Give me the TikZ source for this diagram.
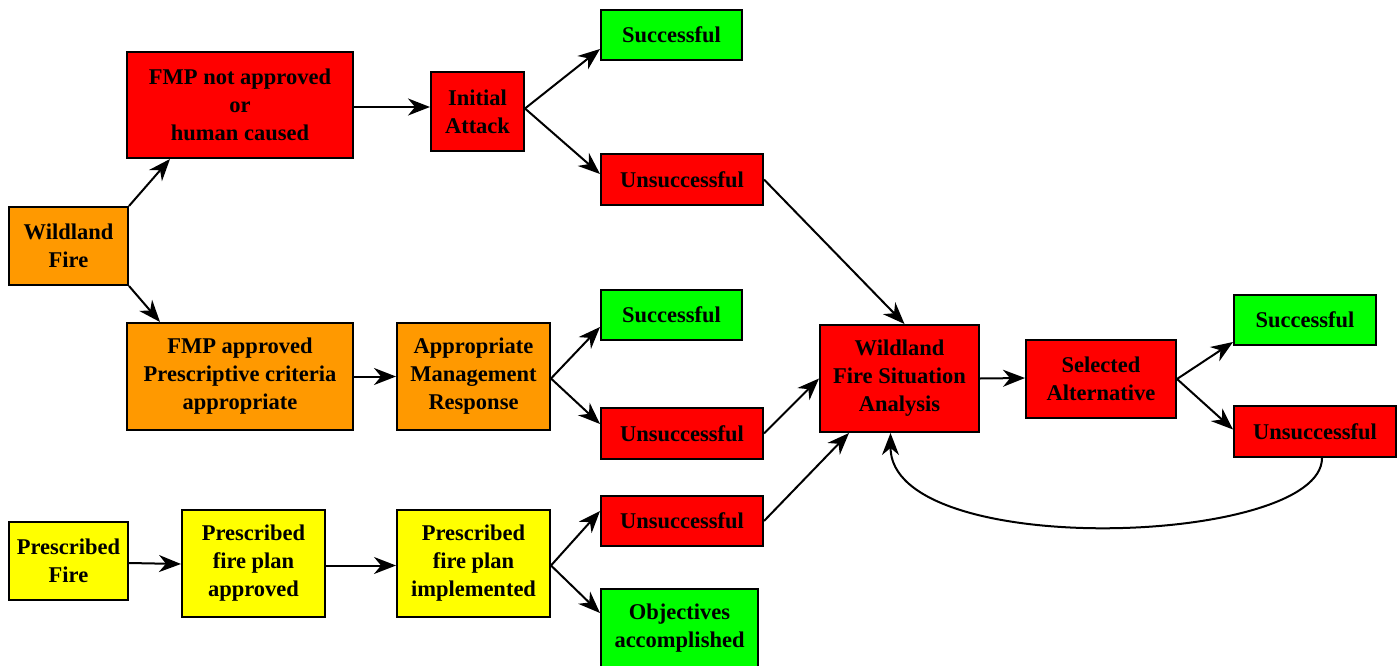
\documentclass[tikz,border=0pt]{standalone}
\usepackage{fontspec}
\setmainfont{Liberation Serif}
\usetikzlibrary{arrows.meta}
\definecolor{cred}{HTML}{FF0000}
\definecolor{corange}{HTML}{FF9900}
\definecolor{cyellow}{HTML}{FFFF00}
\definecolor{cgreen}{HTML}{00FF00}
\tikzset{
  box/.style={draw=black, line width=2pt, inner sep=0pt, align=center,
    font=\fontsize{22.5}{28}\selectfont\bfseries, text=black},
  redbox/.style={box, fill=cred},
  orangebox/.style={box, fill=corange},
  yellowbox/.style={box, fill=cyellow},
  greenbox/.style={box, fill=cgreen},
  conn/.style={line width=2pt, -{Stealth[length=22pt, width=17pt, inset=7pt]}},
}
\begin{document}
\begin{tikzpicture}[x=1pt, y=-1pt]
\useasboundingbox (0,0) rectangle (1397,666);
\node[orangebox, minimum width=119pt, minimum height=78pt] (wf) at (68.5,246) {Wildland\\Fire};
\node[redbox, minimum width=226pt, minimum height=106pt] (fmpn) at (240,105) {FMP not approved\\or\\human caused};
\node[redbox, minimum width=93pt, minimum height=79pt] (ia) at (477.5,111.5) {Initial\\Attack};
\node[greenbox, minimum width=141pt, minimum height=50pt] (s1) at (671.5,35) {Successful};
\node[redbox, minimum width=162pt, minimum height=51pt] (u1) at (682,179.5) {Unsuccessful};
\node[orangebox, minimum width=226pt, minimum height=107pt] (fmpa) at (240,376.5) {FMP approved\\Prescriptive criteria\\appropriate};
\node[orangebox, minimum width=153pt, minimum height=107pt] (amr) at (473.5,376.5) {Appropriate\\Management\\Response};
\node[greenbox, minimum width=141pt, minimum height=50pt] (s2) at (671.5,315) {Successful};
\node[redbox, minimum width=162pt, minimum height=51pt] (u2) at (682,433.5) {Unsuccessful};
\node[yellowbox, minimum width=119pt, minimum height=78pt] (pf) at (68.5,561) {Prescribed\\Fire};
\node[yellowbox, minimum width=143pt, minimum height=107pt] (pa) at (253.5,563.5) {Prescribed\\fire plan\\approved};
\node[yellowbox, minimum width=153pt, minimum height=107pt] (pi) at (473.5,563.5) {Prescribed\\fire plan\\implemented};
\node[redbox, minimum width=162pt, minimum height=50pt] (u3) at (682,521) {Unsuccessful};
\node[greenbox, minimum width=157pt, minimum height=78pt] (oa) at (679.5,628) {Objectives\\accomplished};
\node[redbox, minimum width=159pt, minimum height=107pt] (wfsa) at (899.5,378.5) {Wildland\\Fire Situation\\Analysis};
\node[redbox, minimum width=150pt, minimum height=78pt] (sa) at (1101,379) {Selected\\Alternative};
\node[greenbox, minimum width=142pt, minimum height=50pt] (s3) at (1305,320) {Successful};
\node[redbox, minimum width=162pt, minimum height=51pt] (u4) at (1315,431.5) {Unsuccessful};
% connectors (yshift is in canvas direction: positive = up)
\draw[conn] (wf.north east) -- ([xshift=-70pt]fmpn.south);
\draw[conn] (wf.south east) -- ([xshift=-80pt]fmpa.north);
\draw[conn] ([yshift=-2pt]fmpn.east) -- ([yshift=4.5pt]ia.west);
\draw[conn] ([yshift=3pt]ia.east) -- ([yshift=12pt]s1.south west);
\draw[conn] ([yshift=3pt]ia.east) -- ([yshift=-21pt]u1.north west);
\draw[conn] (u1.east) -- ([xshift=5pt]wfsa.north);
\draw[conn] (fmpa.east) -- (amr.west);
\draw[conn] ([yshift=-2pt]amr.east) -- ([yshift=14pt]s2.south west);
\draw[conn] ([yshift=-2pt]amr.east) -- ([yshift=-17pt]u2.north west);
\draw[conn] (u2.east) -- (wfsa.west);
\draw[conn] ([yshift=-2pt]pf.east) -- ([yshift=-0.5pt]pa.west);
\draw[conn] ([yshift=-2pt]pa.east) -- ([yshift=-2pt]pi.west);
\draw[conn] ([yshift=-2pt]pi.east) -- ([yshift=-16pt]u3.north west);
\draw[conn] ([yshift=-2pt]pi.east) -- ([yshift=-25pt]oa.north west);
\draw[conn] (u3.east) -- ([xshift=30pt]wfsa.south west);
\draw[conn] (wfsa.east) -- ([yshift=1pt]sa.west);
\draw[conn] (sa.east) -- ([yshift=4pt]s3.south west);
\draw[conn] (sa.east) -- ([yshift=2pt]u4.west);
\draw[conn] ([xshift=7pt]u4.south) .. controls ([xshift=7pt, yshift=-88pt]u4.south) and ([xshift=-9pt, yshift=-128pt]wfsa.south) .. ([xshift=-9pt]wfsa.south);
\end{tikzpicture}
\end{document}
